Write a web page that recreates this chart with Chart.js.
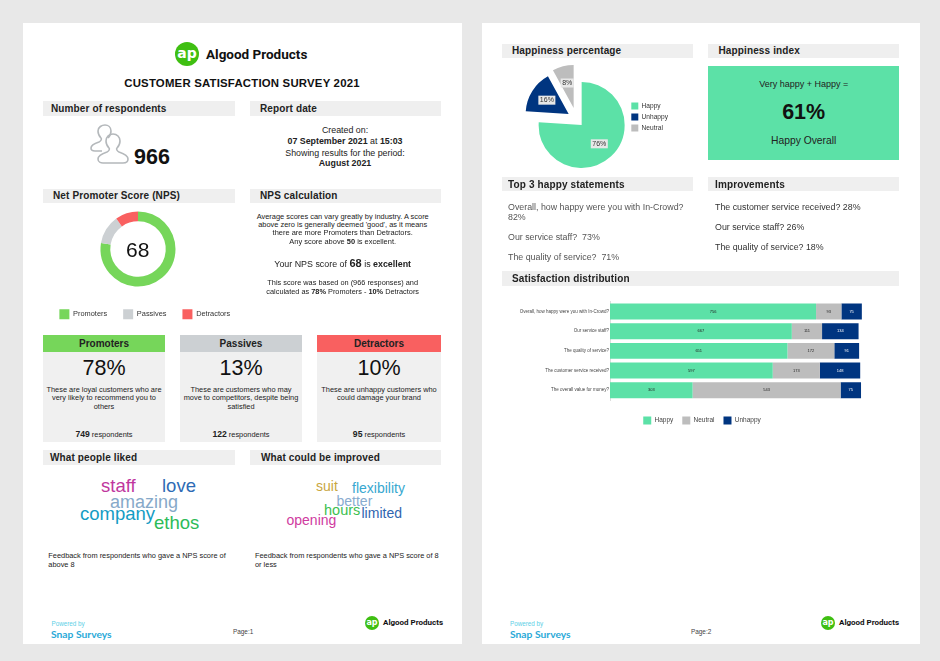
<!DOCTYPE html>
<html><head><meta charset="utf-8">
<script src="https://cdn.jsdelivr.net/npm/chart.js@4/dist/chart.umd.min.js"></script>
<style>
html,body{margin:0;padding:0;background:#e8e8e8;width:940px;height:661px;overflow:hidden;font-family:"Liberation Sans",Arial,sans-serif;color:#222}
.page{position:absolute;top:23px;height:621px;background:#fff}
.t{position:absolute;white-space:nowrap;line-height:0}
.c{transform:translateX(-50%)}
.b{font-weight:bold}
.hd{position:absolute;background:#efefef;height:14.5px}
.ht{position:absolute;white-space:nowrap;line-height:0;font-weight:bold;font-size:10px;letter-spacing:.13px;color:#222}
.card{position:absolute;top:335px;height:106.5px;background:#f0f0f0}
.cardh{position:absolute;left:0;right:0;top:0;height:17px}
.wc{position:absolute;white-space:nowrap;line-height:0}
canvas{position:absolute}
.logo{position:absolute;border-radius:50%;background:#3fbf12;color:#fff;font-weight:bold;text-align:center;font-family:"DejaVu Sans",sans-serif}
</style></head><body>
<div class="page" style="left:23px;width:439px"></div>
<div class="page" style="left:482px;width:438px"></div>

<!-- PAGE 1 -->
<div class="logo" style="left:175px;top:42px;width:24px;height:24px;line-height:22px;font-size:14px">ap</div>
<div class="t b" style="left:206px;top:54px;font-size:13.5px;font-family:Roboto,sans-serif;color:#111">Algood Products</div>
<div class="t b c" style="left:242px;top:83px;font-size:11.4px;letter-spacing:.2px;color:#111">CUSTOMER SATISFACTION SURVEY 2021</div>

<div class="hd" style="left:43px;top:101px;width:192px"></div><div class="ht" style="left:51px;top:108.5px">Number of respondents</div>
<div class="hd" style="left:250px;top:101px;width:191px"></div><div class="ht" style="left:260px;top:108.5px">Report date</div>
<svg style="position:absolute;left:88px;top:124px" width="44" height="42" viewBox="0 0 44 42" fill="none" stroke="#b4b8bb" stroke-width="1.6">
<path d="M20 14c2-2 3-4 3-7 0-4-3-6-6-6s-7 2-7 6c0 3 1 5 3 7 1 1 0 3-2 4-3 1-8 3-8 6 0 2 2 3 4 3h7"/>
<path d="M29 24c2-2 3-4 3-7 0-4-3-7-7-7s-7 3-7 7c0 3 1 5 3 7 1 1 0 3-2 4-3 1-9 3-9 7 0 3 3 4 5 4h20c3 0 5-1 5-4 0-4-6-6-9-7-2-1-3-3-2-4z"/>
</svg>
<div class="t b" style="left:134px;top:157px;font-size:21.5px;color:#111">966</div>
<div class="t c" style="left:345px;top:130px;font-size:8.85px">Created on:</div>
<div class="t c" style="left:345px;top:140.5px;font-size:8.85px"><b>07 September 2021</b> at <b>15:03</b></div>
<div class="t c" style="left:345px;top:153px;font-size:8.85px">Showing results for the period:</div>
<div class="t c b" style="left:345px;top:163px;font-size:8.85px">August 2021</div>

<div class="hd" style="left:43px;top:188.5px;width:192px"></div><div class="ht" style="left:53px;top:196px">Net Promoter Score (NPS)</div>
<div class="hd" style="left:250px;top:188.5px;width:191px"></div><div class="ht" style="left:260px;top:196px">NPS calculation</div>
<canvas id="nps" width="220" height="130" style="left:27.7px;top:201.8px"></canvas>
<div class="t c" style="left:137.7px;top:249.5px;font-size:21px;color:#111">68</div>
<div class="t c" style="left:342.7px;top:216.5px;font-size:7.45px">Average scores can vary greatly by industry. A score</div>
<div class="t c" style="left:342.7px;top:225px;font-size:7.45px">above zero is generally deemed 'good', as it means</div>
<div class="t c" style="left:342.7px;top:233px;font-size:7.45px">there are more Promoters than Detractors.</div>
<div class="t c" style="left:342.7px;top:241.7px;font-size:7.45px">Any score above <b>50</b> is excellent.</div>
<div class="t c" style="left:342.7px;top:262.7px;font-size:8.9px">Your NPS score of <b style="font-size:11px">68</b> is <b>excellent</b></div>
<div class="t c" style="left:342.7px;top:282.7px;font-size:7.35px">This score was based on (966 responses) and</div>
<div class="t c" style="left:342.7px;top:291.7px;font-size:7.35px">calculated as <b>78%</b> Promoters - <b>10%</b> Detractors</div>

<div class="card" style="left:43px;width:122px"><div class="cardh" style="background:#76d65a"></div></div>
<div class="t b c" style="left:104px;top:343.5px;font-size:10px">Promoters</div>
<div class="t c" style="left:104px;top:367.5px;font-size:21.5px;color:#111">78%</div>
<div class="t c" style="left:104px;top:389.5px;font-size:7.4px">These are loyal customers who are</div>
<div class="t c" style="left:104px;top:398px;font-size:7.4px">very likely to recommend you to</div>
<div class="t c" style="left:104px;top:406.5px;font-size:7.4px">others</div>
<div class="t c" style="left:104px;top:433.5px;font-size:7.4px"><b style="font-size:8.6px">749</b> respondents</div>

<div class="card" style="left:180px;width:122px"><div class="cardh" style="background:#ccd0d3"></div></div>
<div class="t b c" style="left:241px;top:343.5px;font-size:10px">Passives</div>
<div class="t c" style="left:241px;top:367.5px;font-size:21.5px;color:#111">13%</div>
<div class="t c" style="left:241px;top:389.5px;font-size:7.4px">These are customers who may</div>
<div class="t c" style="left:241px;top:398px;font-size:7.4px">move to competitors, despite being</div>
<div class="t c" style="left:241px;top:406.5px;font-size:7.4px">satisfied</div>
<div class="t c" style="left:241px;top:433.5px;font-size:7.4px"><b style="font-size:8.6px">122</b> respondents</div>

<div class="card" style="left:317px;width:124px"><div class="cardh" style="background:#f96060"></div></div>
<div class="t b c" style="left:379px;top:343.5px;font-size:10px">Detractors</div>
<div class="t c" style="left:379px;top:367.5px;font-size:21.5px;color:#111">10%</div>
<div class="t c" style="left:379px;top:389.5px;font-size:7.4px">These are unhappy customers who</div>
<div class="t c" style="left:379px;top:398px;font-size:7.4px">could damage your brand</div>
<div class="t c" style="left:379px;top:433.5px;font-size:7.4px"><b style="font-size:8.6px">95</b> respondents</div>

<div class="hd" style="left:43px;top:450px;width:192px"></div><div class="ht" style="left:50px;top:457.5px">What people liked</div>
<div class="hd" style="left:250px;top:450px;width:191px"></div><div class="ht" style="left:261px;top:457.5px">What could be improved</div>
<div class="wc" style="left:101px;top:486px;font-size:18.5px;color:#c0369e">staff</div>
<div class="wc" style="left:162px;top:486px;font-size:18.5px;color:#2e6bb5">love</div>
<div class="wc" style="left:110px;top:501.5px;font-size:18px;color:#86a9c9">amazing</div>
<div class="wc" style="left:80px;top:514px;font-size:18.5px;color:#149cc4">company</div>
<div class="wc" style="left:154px;top:522.5px;font-size:18.5px;color:#2dbb58">ethos</div>
<div class="wc" style="left:316px;top:485.5px;font-size:14px;color:#c9a63f">suit</div>
<div class="wc" style="left:352px;top:487.5px;font-size:14px;color:#38a8d0">flexibility</div>
<div class="wc" style="left:336.5px;top:500.5px;font-size:14px;color:#88accf">better</div>
<div class="wc" style="left:324px;top:510px;font-size:14.5px;color:#3cbf50">hours</div>
<div class="wc" style="left:361.5px;top:513px;font-size:14px;color:#2f65b0">limited</div>
<div class="wc" style="left:286.5px;top:520px;font-size:14px;color:#cf3ba0">opening</div>
<div class="t" style="left:48.3px;top:556px;font-size:7.4px">Feedback from respondents who gave a NPS score of</div>
<div class="t" style="left:48.3px;top:564.7px;font-size:7.4px">above 8</div>
<div class="t" style="left:255px;top:556px;font-size:7.4px">Feedback from respondents who gave a NPS score of 8</div>
<div class="t" style="left:255px;top:564.7px;font-size:7.4px">or less</div>
<div class="t" style="left:51.5px;top:623.5px;font-size:6.3px;color:#5ccfe6">Powered by</div>
<div class="t" style="left:51px;top:633.5px;font-size:10.3px;font-weight:bold;font-family:Lato,sans-serif;color:#2aa9d8">Snap Surveys</div>
<div class="t" style="left:233px;top:631.7px;font-size:6.4px;color:#444">Page:1</div>
<div class="logo" style="left:365px;top:616px;width:14px;height:14px;line-height:13px;font-size:8px">ap</div>
<div class="t b" style="left:383px;top:623px;font-size:8px;font-family:Roboto,sans-serif;color:#111">Algood Products</div>

<!-- PAGE 2 -->
<div class="hd" style="left:502px;top:43.5px;width:191px"></div><div class="ht" style="left:512px;top:51px">Happiness percentage</div>
<div class="hd" style="left:708px;top:43.5px;width:191px"></div><div class="ht" style="left:718.5px;top:51px">Happiness index</div>
<canvas id="pie" width="204" height="120" style="left:505px;top:65px"></canvas>
<div style="position:absolute;left:708.3px;top:66px;width:191px;height:93.5px;background:#5ce1a7"></div>
<div class="t c" style="left:803.7px;top:83.5px;font-size:9px">Very happy + Happy =</div>
<div class="t c b" style="left:803.7px;top:111.7px;font-size:21.5px;color:#111">61%</div>
<div class="t c" style="left:803.7px;top:140.5px;font-size:10.3px">Happy Overall</div>

<div class="hd" style="left:502px;top:176.5px;width:191px"></div><div class="ht" style="left:508px;top:184.5px">Top 3 happy statements</div>
<div class="hd" style="left:708px;top:176.5px;width:191px"></div><div class="ht" style="left:715px;top:184.5px">Improvements</div>
<div class="t" style="left:508px;top:206.7px;font-size:8.85px;color:#555">Overall, how happy were you with In-Crowd?</div>
<div class="t" style="left:508px;top:216.7px;font-size:8.85px;color:#555">82%</div>
<div class="t" style="left:508px;top:236.7px;font-size:8.85px;color:#555">Our service staff?&nbsp; 73%</div>
<div class="t" style="left:508px;top:256.7px;font-size:8.85px;color:#555">The quality of service?&nbsp; 71%</div>
<div class="t" style="left:715px;top:206.7px;font-size:8.85px;color:#333">The customer service received? 28%</div>
<div class="t" style="left:715px;top:226.7px;font-size:8.85px;color:#333">Our service staff? 26%</div>
<div class="t" style="left:715px;top:246.7px;font-size:8.85px;color:#333">The quality of service? 18%</div>

<div class="hd" style="left:502px;top:271px;width:397px"></div><div class="ht" style="left:512px;top:278.5px">Satisfaction distribution</div>
<canvas id="dist" width="400" height="129" style="left:500px;top:298px"></canvas>

<div class="t" style="left:510px;top:623.5px;font-size:6.3px;color:#5ccfe6">Powered by</div>
<div class="t" style="left:510px;top:633.5px;font-size:10.3px;font-weight:bold;font-family:Lato,sans-serif;color:#2aa9d8">Snap Surveys</div>
<div class="t" style="left:691px;top:631.7px;font-size:6.4px;color:#444">Page:2</div>
<div class="logo" style="left:821px;top:616px;width:14px;height:14px;line-height:13px;font-size:8px">ap</div>
<div class="t b" style="left:839px;top:623px;font-size:8px;font-family:Roboto,sans-serif;color:#111">Algood Products</div>

<script>
const npsCategories = ['Promoters', 'Passives', 'Detractors'];
const npsValues = [749, 122, 95];
const npsColors = ['#76d65a', '#ccd0d3', '#f96060'];

const pieCategories = ['Happy', 'Unhappy', 'Neutral'];
const pieValues = [76, 16, 8];
const pieColors = ['#5ce1a7', '#003580', '#bdbdbd'];
const explodeX = [0, -13, -8];
const explodeY = [0, -11, -17];

const distCategories = ['Overall, how happy were you with In-Crowd?', 'Our service staff?', 'The quality of service?', 'The customer service received?', 'The overall value for money?'];
const distHappy = [756, 667, 651, 597, 303];
const distNeutral = [93, 111, 172, 173, 543];
const distUnhappy = [75, 134, 91, 148, 75];

Chart.defaults.animation = false;
Chart.defaults.font.family = '"Liberation Sans", Arial, sans-serif';
Chart.defaults.plugins.tooltip.enabled = false;

const legendNudge = {
  id: 'legendNudge',
  afterLayout(c, a, o) {
    const l = c.legend;
    l.left += o.dx || 0; l.right += o.dx || 0;
    l.top += o.dy || 0; l.bottom += o.dy || 0;
  }
};

new Chart(document.getElementById('nps'), {
  type: 'doughnut',
  data: { labels: npsCategories, datasets: [{ data: npsValues, backgroundColor: npsColors, borderWidth: 0 }] },
  options: {
    responsive: false, cutout: '74%', radius: 37.5,
    plugins: {
      legendNudge: { dx: 6.8, dy: -2.8 },
      legend: { position: 'bottom', labels: { boxWidth: 10, boxHeight: 10, padding: 16, color: '#333', font: { size: 7.4 } } }
    }
  },
  plugins: [legendNudge]
});

const explode = {
  id: 'explode',
  beforeDatasetsDraw(c) {
    c.getDatasetMeta(0).data.forEach((arc, i) => {
      if (arc._wrapped) return;
      arc._wrapped = true;
      const d = arc.draw;
      arc.draw = function (ctx) { ctx.save(); ctx.translate(explodeX[i], explodeY[i]); d.call(this, ctx); ctx.restore(); };
    });
  },
  afterDatasetsDraw(c) {
    const ctx = c.ctx;
    ctx.save();
    ctx.font = '7px "Liberation Sans"';
    ctx.textAlign = 'center'; ctx.textBaseline = 'middle';
    c.getDatasetMeta(0).data.forEach((arc, i) => {
      const mid = (arc.startAngle + arc.endAngle) / 2, r = arc.outerRadius * 0.6;
      const x = arc.x + explodeX[i] + Math.cos(mid) * r, y = arc.y + explodeY[i] + Math.sin(mid) * r;
      const s = pieValues[i] + '%', w = ctx.measureText(s).width + 3;
      ctx.fillStyle = '#e8e8e8'; ctx.fillRect(x - w / 2, y - 4.5, w, 9);
      ctx.fillStyle = '#333'; ctx.fillText(s, x, y);
    });
    ctx.restore();
  }
};

new Chart(document.getElementById('pie'), {
  type: 'pie',
  data: { labels: pieCategories, datasets: [{ data: pieValues, backgroundColor: pieColors, borderWidth: 0 }] },
  options: {
    responsive: false, radius: 43,
    plugins: {
      legendNudge: { dx: -31, dy: -8 },
      legend: { position: 'right', labels: { boxWidth: 7, boxHeight: 7, padding: 4, color: '#333', font: { size: 6.6 } } }
    }
  },
  plugins: [legendNudge, explode]
});

const barValues = {
  id: 'barValues',
  afterDatasetsDraw(c) {
    const ctx = c.ctx;
    ctx.save();
    ctx.font = '4px "Liberation Sans"';
    ctx.textAlign = 'center'; ctx.textBaseline = 'middle';
    c.data.datasets.forEach((ds, di) => {
      c.getDatasetMeta(di).data.forEach((bar, i) => {
        const p = bar.getCenterPoint();
        ctx.fillStyle = di === 2 ? '#fff' : '#222';
        ctx.fillText(ds.data[i], p.x, p.y);
      });
    });
    ctx.restore();
  }
};

new Chart(document.getElementById('dist'), {
  type: 'bar',
  data: {
    labels: distCategories,
    datasets: [
      { label: 'Happy', data: distHappy, backgroundColor: '#5ce1a7' },
      { label: 'Neutral', data: distNeutral, backgroundColor: '#bdbdbd' },
      { label: 'Unhappy', data: distUnhappy, backgroundColor: '#003580' }
    ]
  },
  options: {
    responsive: false, indexAxis: 'y',
    datasets: { bar: { categoryPercentage: 1, barPercentage: 0.81 } },
    layout: { padding: 0 },
    scales: {
      x: { stacked: true, display: false, min: 0, max: 1064 },
      y: {
        stacked: true,
        grid: { display: false, drawTicks: false },
        border: { display: true, color: '#dddddd', width: 1 },
        ticks: { autoSkip: false, padding: 1, color: '#444', font: { size: 4.5 } },
        afterFit(s) { s.width = 110; }
      }
    },
    plugins: {
      legendNudge: { dx: 2, dy: 7.6 },
      legend: { position: 'bottom', labels: { boxWidth: 8, boxHeight: 8, padding: 9, color: '#444', font: { size: 6.5 } } }
    }
  },
  plugins: [legendNudge, barValues]
});
</script>
</body></html>
